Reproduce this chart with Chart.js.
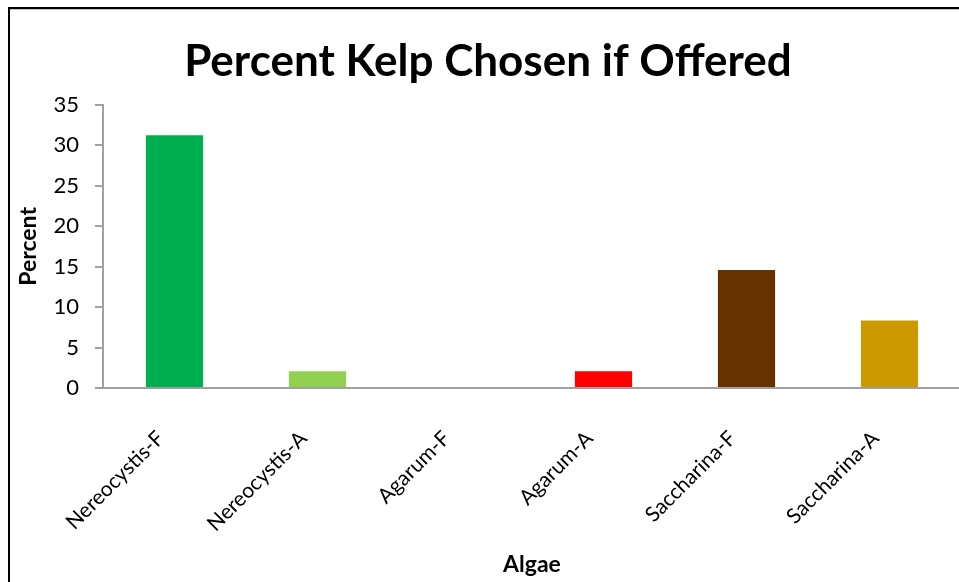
<!DOCTYPE html>
<html>
<head>
<meta charset="utf-8">
<script src="https://cdn.jsdelivr.net/npm/chart.js@4.4.1/dist/chart.umd.min.js"></script>
<style>
  html, body { margin: 0; padding: 0; overflow: hidden; background: #fff; }
  #wrap { width: 965px; height: 582px; }
</style>
</head>
<body>
<div id="wrap"><canvas id="kelp-chart" width="965" height="582"></canvas></div>
<script>
// Categories and values
const algae = ['Nereocystis-F', 'Nereocystis-A', 'Agarum-F', 'Agarum-A', 'Saccharina-F', 'Saccharina-A'];
const percentChosen = [31.25, 2.08, 0, 2.08, 14.58, 8.33];
const barColors = ['#00B050', '#92D050', '#7F7F7F', '#FF0000', '#663300', '#CC9900'];
const yTicks = [0, 5, 10, 15, 20, 25, 30, 35];

// Frame line on the left and top, like the Excel chart border
const framePlugin = {
  id: 'frame',
  afterDraw(chart) {
    const c = chart.ctx;
    c.save();
    c.fillStyle = '#000';
    c.fillRect(8, 7, 2, chart.height);
    c.fillRect(8, 7, chart.width, 2);
    c.fillStyle = '#c8c8c8';
    c.fillRect(10, 9, chart.width, 1);
    c.restore();
  }
};

const ctx = document.getElementById('kelp-chart').getContext('2d');

const kelpChart = new Chart(ctx, {
  type: 'bar',
  data: {
    labels: algae,
    datasets: [{
      label: 'Percent',
      data: percentChosen,
      backgroundColor: barColors,
      borderWidth: 0,
      barPercentage: 0.4,
      categoryPercentage: 1
    }]
  },
  options: {
    responsive: false,
    animation: false,
    layout: { padding: { left: 15, right: 4, top: 0, bottom: 0 } },
    plugins: {
      legend: { display: false },
      tooltip: { enabled: false },
      title: {
        display: true,
        text: 'Percent Kelp Chosen if Offered',
        color: '#000',
        font: { family: 'Lato', size: 44, weight: 'bold' },
        padding: { top: 35, bottom: 17 }
      }
    },
    scales: {
      y: {
        min: 0,
        max: 35,
        afterBuildTicks: scale => { scale.ticks = yTicks.map(v => ({ value: v })); },
        afterFit: scale => { scale.width = 88; },
        grid: { drawOnChartArea: false, color: '#A0A0A0', tickLength: 8, lineWidth: 2 },
        border: { display: true, color: '#A0A0A0', width: 2 },
        ticks: {
          color: '#000',
          padding: 16,
          font: { family: 'Lato', size: 22 }
        },
        title: {
          display: true,
          text: 'Percent',
          color: '#000',
          font: { family: 'Lato', size: 23, weight: 'bold' },
          padding: { top: 0, bottom: 0 }
        }
      },
      x: {
        afterFit: scale => { scale.height = 194; },
        grid: { display: false },
        border: { display: true, color: '#A0A0A0', width: 2 },
        ticks: {
          color: '#000',
          maxRotation: 45,
          minRotation: 45,
          padding: 30,
          labelOffset: -14,
          font: { family: 'Lato', size: 21 }
        },
        title: {
          display: true,
          text: 'Algae',
          color: '#000',
          font: { family: 'Lato', size: 23, weight: 'bold' },
          padding: { top: 0, bottom: 4 }
        }
      }
    }
  },
  plugins: [framePlugin]
});
</script>
</body>
</html>
